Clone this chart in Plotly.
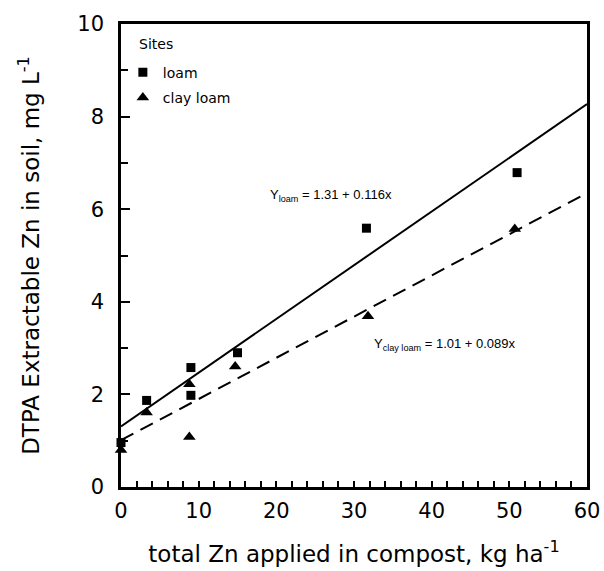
import plotly.graph_objects as go

# Observed data
loam_x = [0, 3.3, 9, 9, 15, 31.6, 51]
loam_y = [0.96, 1.87, 2.58, 1.98, 2.9, 5.59, 6.79]
clay_x = [0, 3.3, 8.8, 8.8, 14.7, 31.8, 50.7]
clay_y = [0.8, 1.61, 2.22, 1.08, 2.6, 3.69, 5.57]

# Fitted lines
fit_x = [0, 60]
loam_fit_y = [1.31, 8.27]
clay_fit_y = [1.01, 6.35]

x_ticks = [0, 10, 20, 30, 40, 50, 60]
y_ticks = [0, 2, 4, 6, 8, 10]

FONT = "DejaVu Sans, sans-serif"
EQ_FONT = "Liberation Sans, Arial, sans-serif"

fig = go.Figure()
fig.add_trace(go.Scatter(x=fit_x, y=loam_fit_y, mode="lines",
                         line=dict(color="black", width=2), showlegend=False, hoverinfo="skip"))
fig.add_trace(go.Scatter(x=fit_x, y=clay_fit_y, mode="lines",
                         line=dict(color="black", width=2, dash="14px,8px"), showlegend=False, hoverinfo="skip"))
fig.add_trace(go.Scatter(x=loam_x, y=loam_y, mode="markers", name="loam", legendgroup="a",
                         marker=dict(symbol="square", size=9, color="black"), cliponaxis=False))
fig.add_trace(go.Scatter(x=clay_x, y=clay_y, mode="markers", name="clay loam", legendgroup="b",
                         marker=dict(symbol="triangle-up", size=11, color="black"), cliponaxis=False))

fig.add_annotation(x=27.0, y=6.3, xref="x", yref="y", showarrow=False,
                   text="Y<sub>loam</sub> = 1.31 + 0.116x",
                   font=dict(family=EQ_FONT, size=13, color="black"))
fig.add_annotation(x=41.7, y=3.07, xref="x", yref="y", showarrow=False,
                   text="Y<sub>clay loam</sub> = 1.01 + 0.089x",
                   font=dict(family=EQ_FONT, size=13, color="black"))
fig.add_annotation(x=0.034, y=0.956, xref="paper", yref="paper", xanchor="left", yanchor="middle",
                   showarrow=False, text="Sites", font=dict(family=FONT, size=14, color="black"))

fig.update_layout(
    width=604, height=571,
    margin=dict(l=121, r=17, t=24, b=84),
    plot_bgcolor="white", paper_bgcolor="white",
    font=dict(family=FONT, color="black"),
    legend=dict(x=0.004, y=0.9295, xanchor="left", yanchor="top",
                font=dict(size=14), bgcolor="rgba(0,0,0,0)", tracegroupgap=4),
    xaxis=dict(range=[0, 60], tickvals=x_ticks, ticks="inside", ticklen=6, tickwidth=2,
               tickcolor="black", showline=True, linecolor="black", linewidth=2.5, mirror=True,
               showgrid=False, zeroline=False, automargin=False,
               tickfont=dict(size=21), ticklabelstandoff=3,
               minor=dict(dtick=2, ticks="inside", ticklen=6, tickwidth=2, tickcolor="black"),
               title=dict(text="total Zn applied in compost, kg ha<sup>-1</sup>", font=dict(size=23), standoff=24)),
    yaxis=dict(range=[0, 10], tickvals=y_ticks, ticks="inside", ticklen=9, tickwidth=2,
               tickcolor="black", showline=True, linecolor="black", linewidth=2.5, mirror=True,
               showgrid=False, zeroline=False, automargin=False,
               tickfont=dict(size=21), ticklabelstandoff=10,
               minor=dict(dtick=1, ticks="inside", ticklen=7, tickwidth=2, tickcolor="black"),
               title=dict(text="DTPA Extractable Zn in soil, mg L<sup>-1</sup>", font=dict(size=23), standoff=32)),
)

fig.write_html("out.html")
